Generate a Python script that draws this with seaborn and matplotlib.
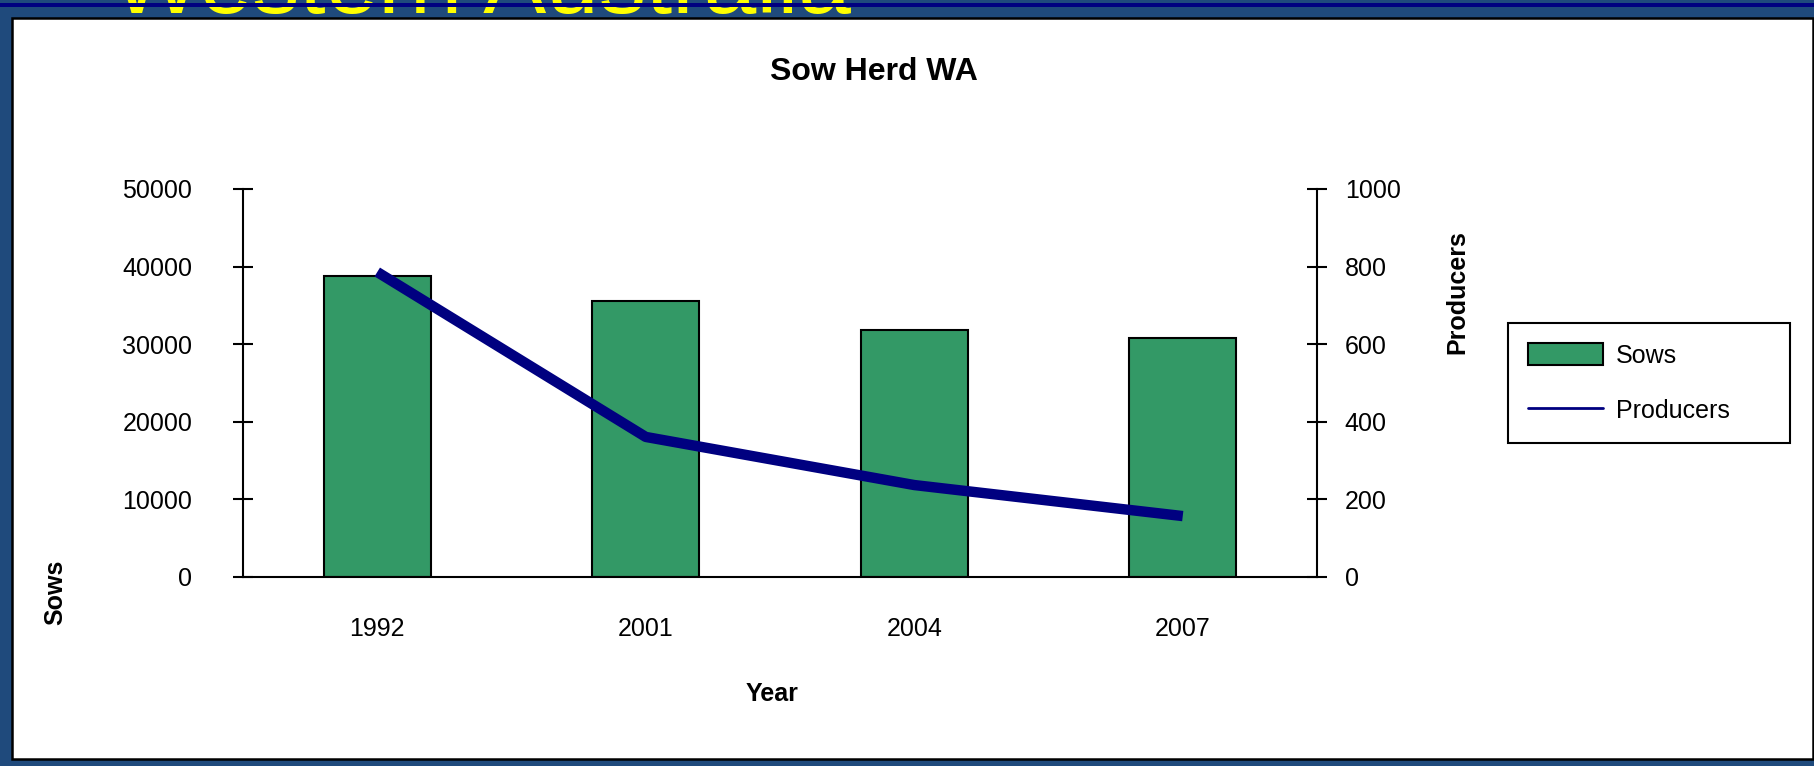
import numpy as np
import pandas as pd
import matplotlib
matplotlib.use("Agg")
import matplotlib.pyplot as plt
from matplotlib.patches import Rectangle, Patch
from matplotlib.lines import Line2D
import seaborn as sns

# dados
anos = ["1992", "2001", "2004", "2007"]
porcas = [38800, 35600, 31800, 30800]
produtores = [786, 361, 237, 157]

sns.set_style("white")
plt.rcParams["font.family"] = ["Liberation Sans", "DejaVu Sans"]
plt.rcParams.update({"text.color": "black", "axes.labelcolor": "black",
                     "xtick.color": "black", "ytick.color": "black"})

azul = "#1F4A7C"
marinho = "#000080"
verde = "#339966"

fig = plt.figure(figsize=(18.14, 7.66), dpi=100, facecolor=azul)

# fundo estilo slide
fig.text(112 / 1814, 1 - 13 / 766, "Western Australia", color="#FFFF00",
         fontsize=68, ha="left", va="baseline", zorder=-1.8)
fig.patches.append(Rectangle((0, 1 - 7.3 / 766), 1, 4.6 / 766, transform=fig.transFigure,
                             facecolor=marinho, edgecolor="none", zorder=-1.7))
fig.patches.append(Rectangle((12 / 1814, 1 - 759 / 766), 1801 / 1814, 741 / 766,
                             transform=fig.transFigure, facecolor="white",
                             edgecolor="black", linewidth=1.8, zorder=-1.6))

ax = fig.add_axes([243 / 1814, 1 - 577 / 766, 1074 / 1814, 388 / 766])
ax.patch.set_visible(False)

df = pd.DataFrame({"Year": anos, "Sows": porcas, "Producers": produtores})
sns.barplot(data=df, x="Year", y="Sows", color=verde, saturation=1,
            edgecolor="black", linewidth=1.5, width=0.4, ax=ax)

ax2 = ax.twinx()
sns.lineplot(x=np.arange(len(anos)), y=df["Producers"], ax=ax2, color=marinho,
             linewidth=7.5, solid_capstyle="butt", legend=False)

ax.set_xlim(-0.5, 3.5)
ax.set_ylim(0, 50000)
ax.set_yticks(range(0, 50001, 10000))
ax2.set_ylim(0, 1000)
ax2.set_yticks(range(0, 1001, 200))
ax.set_xlabel("")
ax.set_ylabel("")
ax2.set_ylabel("")

ax.set_xticks([-0.5, 0.5, 1.5, 2.5, 3.5], minor=True)
ax.tick_params(axis="x", which="major", length=0, pad=29, labelsize=18)
ax.tick_params(axis="x", which="minor", direction="out", length=8, width=1.5)
ax.tick_params(axis="y", direction="inout", length=15, width=1.5, pad=29,
               labelsize=18, left=True)
ax2.tick_params(axis="y", direction="inout", length=15, width=1.5, pad=12.5,
                labelsize=18, right=True)

for s in ["top", "right"]:
    ax.spines[s].set_visible(False)
for s in ["top", "left", "bottom"]:
    ax2.spines[s].set_visible(False)
for s in ["left", "bottom"]:
    ax.spines[s].set_linewidth(1.5)
    ax.spines[s].set_color("black")
ax2.spines["right"].set_linewidth(1.5)
ax2.spines["right"].set_color("black")

# textos
fig.text(874 / 1814, 1 - 72 / 766, "Sow Herd WA", fontsize=23, fontweight="bold",
         ha="center", va="center")
fig.text(55 / 1814, 1 - 592 / 766, "Sows", fontsize=18, fontweight="bold",
         rotation=90, ha="center", va="center")
fig.text(1457 / 1814, 1 - 292 / 766, "Producers", fontsize=18, fontweight="bold",
         rotation=90, ha="center", va="center")
fig.text(772 / 1814, 1 - 694 / 766, "Year", fontsize=18, fontweight="bold",
         ha="center", va="center")

# legenda
handles = [Patch(facecolor=verde, edgecolor="black", linewidth=1.5),
           Line2D([], [], color=marinho, linewidth=2)]
leg = fig.legend(handles, ["Sows", "Producers"], loc="upper left",
                 bbox_to_anchor=(1508 / 1814, 1 - 444 / 766, 282 / 1814, 121 / 766),
                 mode="expand", fontsize=18, handlelength=3.0, handleheight=1.0,
                 handletextpad=0.5, labelspacing=1.2, borderpad=0.8,
                 borderaxespad=0, fancybox=False, framealpha=1, edgecolor="black")
leg.get_frame().set_linewidth(1.5)

fig.savefig("out.png", dpi=100, facecolor=azul)
